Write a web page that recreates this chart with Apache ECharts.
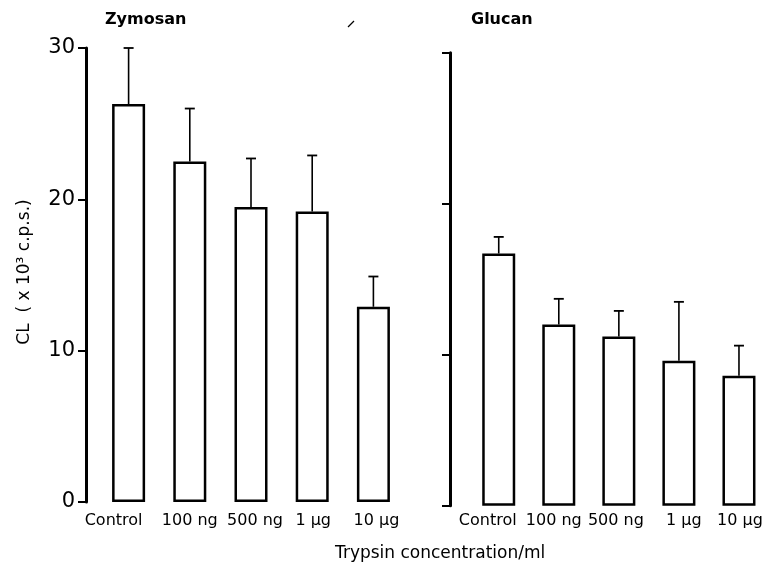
<!DOCTYPE html>
<html>
<head>
<meta charset="utf-8">
<script src="https://cdn.jsdelivr.net/npm/echarts@6/dist/echarts.min.js"></script>
<style>html,body{margin:0;padding:0;background:#fff}#c{width:769px;height:565px}</style>
</head>
<body>
<div id="c"></div>
<script>
const categories = ['Control', '100 ng', '500 ng', '1 \u03bcg', '10 \u03bcg'];
const zymosanMean = [26.3, 22.5, 19.5, 19.2, 12.9];
const zymosanUpper = [30.0, 26.0, 22.7, 22.9, 14.9];
const glucanMean = [16.7, 12.0, 11.2, 9.6, 8.6];
const glucanUpper = [17.8, 13.7, 12.9, 13.5, 10.6];
const yTicks = [0, 10, 20, 30];

// layout-only label nudges (px), as in the printed figure
const labelShiftLeft = [-15, 0, 4, 1, 3];
const labelShiftRight = [-11, -5, -3, 5, 1];

const FONT = 'DejaVu Sans';
const chart = echarts.init(document.getElementById('c'), null, {renderer: 'canvas'});

function errSeries(xi, yi, means, uppers) {
  return {
    type: 'custom', xAxisIndex: xi, yAxisIndex: yi, z: 5,
    data: means.map((m, i) => [i, m, uppers[i]]),
    renderItem: function (params, api) {
      const p0 = api.coord([api.value(0), api.value(1)]);
      const p1 = api.coord([api.value(0), api.value(2)]);
      const hw = 5;
      return {
        type: 'group',
        children: [
          {type: 'line', shape: {x1: p0[0], y1: p0[1], x2: p1[0], y2: p1[1]}, style: {stroke: '#000', lineWidth: 1.6}},
          {type: 'line', shape: {x1: p1[0] - hw, y1: p1[1], x2: p1[0] + hw, y2: p1[1]}, style: {stroke: '#000', lineWidth: 1.8}}
        ]
      };
    }
  };
}

function yAx(gi, offset, showLabel) {
  return {
    type: 'value', gridIndex: gi, min: 0, max: 30, interval: 10, offset: offset,
    axisLine: {show: true, lineStyle: {color: '#000', width: 3}},
    axisTick: {show: true, length: 8, lineStyle: {color: '#000', width: 2}},
    splitLine: {show: false},
    axisLabel: {show: showLabel, color: '#000', fontFamily: FONT, fontSize: 21, margin: 11,
      formatter: v => yTicks.indexOf(v) >= 0 ? String(v) : ''}
  };
}

function xAx(gi, shifts, margin) {
  const rich = {};
  shifts.forEach((s, i) => {
    rich['s' + i] = {fontFamily: FONT, fontSize: 16, color: '#000',
      padding: s < 0 ? [0, -2 * s, 0, 0] : [0, 0, 0, 2 * s]};
  });
  return {
    type: 'category', gridIndex: gi, data: categories,
    axisLine: {show: false}, axisTick: {show: false},
    axisLabel: {color: '#000', fontFamily: FONT, fontSize: 16, margin: margin, interval: 0,
      formatter: (v, i) => '{s' + i + '|' + v + '}', rich: rich}
  };
}

const barStyle = {color: '#fff', borderColor: '#000', borderWidth: 2.5};

chart.setOption({
  animation: false,
  backgroundColor: '#fff',
  grid: [
    {left: 98, top: 48, width: 306, bottom: 63},
    {left: 468.7, top: 52.7, width: 303, bottom: 59.3}
  ],
  xAxis: [xAx(0, labelShiftLeft, 11), xAx(1, labelShiftRight, 7)],
  yAxis: [yAx(0, 12, true), yAx(1, 18.7, false)],
  series: [
    {type: 'bar', xAxisIndex: 0, yAxisIndex: 0, data: zymosanMean, barWidth: 33, itemStyle: barStyle},
    errSeries(0, 0, zymosanMean, zymosanUpper),
    {type: 'bar', xAxisIndex: 1, yAxisIndex: 1, data: glucanMean, barWidth: 33, itemStyle: barStyle},
    errSeries(1, 1, glucanMean, glucanUpper)
  ],
  graphic: [
    {type: 'text', left: 105, top: 12, style: {text: 'Zymosan', font: 'bold 16px "DejaVu Sans"', fill: '#000'}},
    {type: 'text', left: 471, top: 12, style: {text: 'Glucan', font: 'bold 16px "DejaVu Sans"', fill: '#000'}},
    {type: 'text', left: 335, top: 545, style: {text: 'Trypsin concentration/ml', font: '17px "DejaVu Sans"', fill: '#000'}},
    {type: 'text', x: 25, y: 272, rotation: Math.PI / 2,
      style: {text: 'CL  ( x 10\u00b3 c.p.s.)', font: '17px "DejaVu Sans"', fill: '#000', align: 'center', verticalAlign: 'middle'}},
    {type: 'line', shape: {x1: 348, y1: 27, x2: 354, y2: 21}, style: {stroke: '#000', lineWidth: 1.2}}
  ]
});
</script>
</body>
</html>
